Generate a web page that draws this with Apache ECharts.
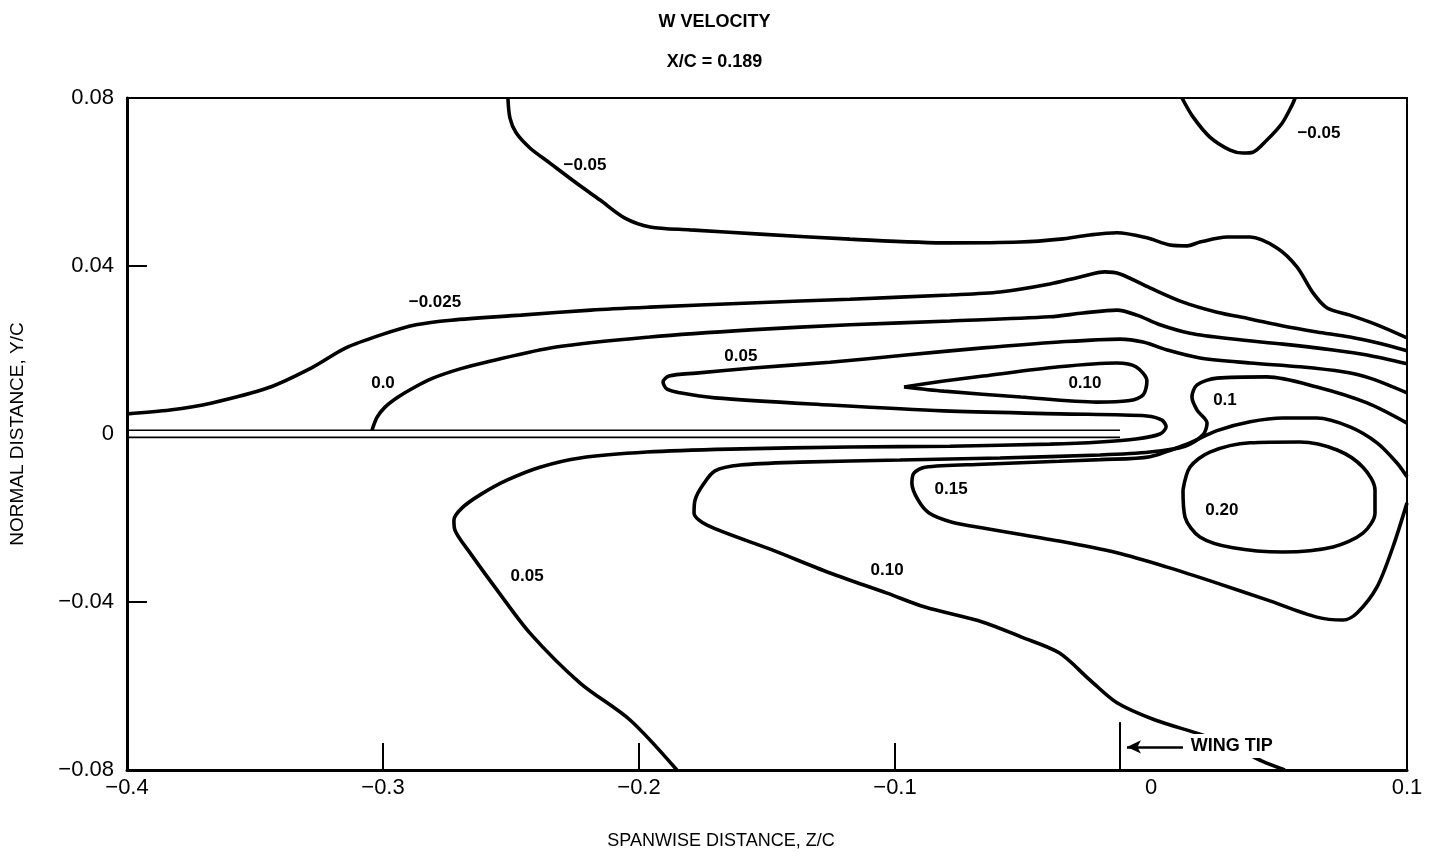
<!DOCTYPE html>
<html>
<head>
<meta charset="utf-8">
<script src="https://cdn.jsdelivr.net/npm/echarts@6/dist/echarts.min.js"></script>
<style>html,body{margin:0;padding:0;background:#fff}#c{width:1429px;height:858px}</style>
</head>
<body>
<div id="c"></div>
<script>
// ---- axis ticks ----
const zTickValues = [-0.3, -0.2, -0.1];
const yTickValues = [0.04, -0.04];

// ---- contours of W velocity, [z/c, y/c] ----
const contourM050Left = [[-0.2512,0.08],[-0.2504,0.0752],[-0.2480,0.0717],[-0.2426,0.0681],[-0.2348,0.0645],[-0.2250,0.0600],[-0.2152,0.0557],[-0.2055,0.0514],[-0.1957,0.0493],[-0.1801,0.0486],[-0.1527,0.0476],[-0.1176,0.0464],[-0.0785,0.0455],[-0.0512,0.0457],[-0.0355,0.0464],[-0.0238,0.0474],[-0.0133,0.0479],[-0.0016,0.0467],[0.0074,0.0450],[0.0141,0.0448],[0.0191,0.0457],[0.0297,0.0469],[0.0387,0.0469],[0.0492,0.0443],[0.0570,0.0398],[0.0633,0.0336],[0.0688,0.0300],[0.0777,0.0283],[0.0883,0.0260],[0.1,0.0229]];
const contourM050Right = [[0.0121,0.08],[0.0164,0.0755],[0.0230,0.0707],[0.0309,0.0676],[0.0359,0.0669],[0.0398,0.0671],[0.0453,0.0700],[0.0512,0.0740],[0.0551,0.0783],[0.0563,0.08]];
const contourM025 = [[-0.4,0.0048],[-0.3832,0.0057],[-0.3668,0.0074],[-0.3449,0.0110],[-0.3281,0.0157],[-0.3145,0.0205],[-0.3008,0.0236],[-0.2871,0.0260],[-0.2734,0.0271],[-0.2461,0.0283],[-0.2188,0.0295],[-0.1957,0.0302],[-0.1566,0.0312],[-0.1176,0.0321],[-0.0785,0.0331],[-0.0590,0.0338],[-0.0395,0.0357],[-0.0277,0.0374],[-0.0180,0.0386],[-0.0121,0.0381],[-0.0004,0.0348],[0.0125,0.0314],[0.0258,0.0290],[0.0387,0.0274],[0.0516,0.0257],[0.0648,0.0243],[0.0777,0.0231],[0.0883,0.0217],[0.1,0.0198]];
const contourZero = [[-0.3043,0.0009],[-0.3023,0.0040],[-0.2992,0.0064],[-0.2941,0.0088],[-0.2875,0.0112],[-0.2805,0.0133],[-0.2699,0.0155],[-0.2598,0.0171],[-0.2324,0.0207],[-0.1957,0.0231],[-0.1566,0.0248],[-0.1176,0.0260],[-0.0785,0.0269],[-0.0395,0.0279],[-0.0266,0.0288],[-0.0133,0.0295],[-0.0055,0.0283],[0.0035,0.0260],[0.0152,0.0240],[0.0320,0.0226],[0.0516,0.0214],[0.0711,0.0200],[0.0844,0.0188],[0.1,0.0167]];
const contour050 = [[0.1,0.0098],[0.0855,0.0133],[0.0750,0.0148],[0.0582,0.0160],[0.0387,0.0169],[0.0191,0.0181],[0.0063,0.0200],[-0.0031,0.0219],[-0.0121,0.0226],[-0.0359,0.0219],[-0.0656,0.0205],[-0.0957,0.0188],[-0.1254,0.0171],[-0.1555,0.0157],[-0.1777,0.0145],[-0.1883,0.0138],[-0.1906,0.0124],[-0.1891,0.0107],[-0.1840,0.0098],[-0.1703,0.0086],[-0.1254,0.0069],[-0.0809,0.0055],[-0.0359,0.0048],[-0.0016,0.0043],[0.0043,0.0033],[0.0059,0.0017],[0.0035,0.0000],[-0.0059,-0.0012],[-0.0199,-0.0019],[-0.0395,-0.0024],[-0.0785,-0.0029],[-0.1176,-0.0031],[-0.1645,-0.0036],[-0.1969,-0.0043],[-0.2230,-0.0057],[-0.2387,-0.0079],[-0.2516,-0.0110],[-0.2621,-0.0145],[-0.2691,-0.0176],[-0.2723,-0.0205],[-0.2719,-0.0229],[-0.2660,-0.0283],[-0.2555,-0.0371],[-0.2426,-0.0474],[-0.2230,-0.0593],[-0.2035,-0.0681],[-0.1852,-0.08]];
const contour100Upper = [[-0.0965,0.0112],[-0.0809,0.0126],[-0.0656,0.0138],[-0.0359,0.0160],[-0.0133,0.0169],[-0.0059,0.0160],[-0.0016,0.0126],[-0.0031,0.0093],[-0.0090,0.0079],[-0.0211,0.0076],[-0.0508,0.0088],[-0.0809,0.0102],[-0.0965,0.0112]];
const contour100 = [[0.1,0.0026],[0.0844,0.0074],[0.0648,0.0112],[0.0453,0.0136],[0.0258,0.0133],[0.0180,0.0117],[0.0160,0.0088],[0.0180,0.0057],[0.0219,0.0026],[0.0203,-0.0002],[0.0133,-0.0029],[-0.0004,-0.0043],[-0.0199,-0.0050],[-0.0590,-0.0057],[-0.0980,-0.0062],[-0.1371,-0.0067],[-0.1605,-0.0074],[-0.1703,-0.0088],[-0.1750,-0.0121],[-0.1781,-0.0157],[-0.1785,-0.0188],[-0.1734,-0.0217],[-0.1480,-0.0276],[-0.1254,-0.0331],[-0.1031,-0.0379],[-0.0883,-0.0412],[-0.0656,-0.0448],[-0.0508,-0.0483],[-0.0359,-0.0521],[-0.0238,-0.0586],[-0.0133,-0.0640],[0.0016,-0.0681],[0.0203,-0.0717],[0.0348,-0.0752],[0.0434,-0.0779],[0.0523,-0.08]];
const contour150 = [[0.1,-0.0102],[0.0961,-0.0069],[0.0883,-0.0021],[0.0777,0.0017],[0.0648,0.0038],[0.0516,0.0038],[0.0387,0.0029],[0.0258,0.0008],[0.0152,-0.0021],[-0.0004,-0.0054],[-0.0199,-0.0061],[-0.0359,-0.0065],[-0.0656,-0.0072],[-0.0883,-0.0079],[-0.0926,-0.0093],[-0.0934,-0.0117],[-0.0910,-0.0157],[-0.0867,-0.0188],[-0.0777,-0.0210],[-0.0656,-0.0224],[-0.0359,-0.0255],[-0.0133,-0.0283],[0.0063,-0.0317],[0.0258,-0.0355],[0.0453,-0.0395],[0.0648,-0.0436],[0.0750,-0.0443],[0.0805,-0.0426],[0.0883,-0.0364],[0.0945,-0.0269],[0.1,-0.0164]];
const contour200 = [[0.0125,-0.0133],[0.0152,-0.0079],[0.0230,-0.0043],[0.0387,-0.0021],[0.0582,-0.0019],[0.0727,-0.0038],[0.0828,-0.0079],[0.0875,-0.0133],[0.0875,-0.0188],[0.0828,-0.0236],[0.0711,-0.0269],[0.0516,-0.0281],[0.0320,-0.0271],[0.0191,-0.0245],[0.0133,-0.0198],[0.0125,-0.0133]];

// ---- contour level labels [z/c, y/c, text] ----
const levelLabels = [[-0.2211,0.0640,'\u22120.05'],[0.0656,0.0717,'\u22120.05'],[-0.2797,0.0314,'\u22120.025'],[-0.3000,0.0121,'0.0'],[-0.1602,0.0186,'0.05'],[-0.0258,0.0121,'0.10'],[0.0289,0.0081,'0.1'],[-0.0781,-0.0131,'0.15'],[0.0277,-0.0181,'0.20'],[-0.2437,-0.0340,'0.05'],[-0.1031,-0.0324,'0.10']];

// ---- wing and wing-tip marker ----
const wingTipZ = -0.0121;
const wingUpperY = 0.0009;
const wingLowerY = -0.0008;
const wingTipMarkTopY = -0.0686;
const wingTipArrow = {fromZ: 0.0125, toZ: -0.0094, y: -0.0745};
const wingTipText = {z: 0.0140, y: -0.0743, text: 'WING TIP'};

const fmt = (v, d) => (Math.abs(v) < 1e-9 ? '0' : (v < 0 ? '\u2212' : '') + Math.abs(v).toFixed(d));
const FONT = 'Liberation Sans';

const contours = [contourM050Left, contourM050Right, contourM025, contourZero, contour050, contour100Upper, contour100, contour150, contour200];
const series = contours.map(d => ({
  type: 'line', data: d, smooth: 0.3, symbol: 'none', silent: true,
  lineStyle: {color: '#000', width: 3.6}, z: 3
}));
series.push({type: 'line', data: [[-0.4, wingUpperY], [wingTipZ, wingUpperY]], symbol: 'none', lineStyle: {color: '#000', width: 1.6}, z: 2});
series.push({type: 'line', data: [[-0.4, wingLowerY], [wingTipZ, wingLowerY]], symbol: 'none', lineStyle: {color: '#000', width: 1.6}, z: 2});
series.push({
  type: 'line', data: [[wingTipZ, -0.08], [wingTipZ, wingTipMarkTopY]], symbol: 'none',
  lineStyle: {color: '#000', width: 2}, z: 4,
  markLine: {
    silent: true, symbol: ['none', 'arrow'], symbolSize: [10, 14],
    label: {show: false},
    lineStyle: {color: '#000', width: 2.5, type: 'solid'},
    data: [[{coord: [wingTipArrow.fromZ, wingTipArrow.y]}, {coord: [wingTipArrow.toZ, wingTipArrow.y]}]]
  }
});
series.push({
  type: 'scatter', symbolSize: 0, z: 10, itemStyle: {opacity: 1},
  data: levelLabels,
  label: {show: true, position: 'inside', formatter: p => p.data[2], color: '#000', opacity: 1, fontFamily: FONT, fontSize: 17, fontWeight: 'bold'}
});
series.push({
  type: 'scatter', symbolSize: 0, z: 10, itemStyle: {opacity: 1},
  data: [[wingTipText.z, wingTipText.y, wingTipText.text]],
  label: {show: true, position: 'right', distance: 0, formatter: p => p.data[2], color: '#000', opacity: 1, fontFamily: FONT, fontSize: 18, fontWeight: 'bold', backgroundColor: '#fff', padding: [3, 4]}
});

const chart = echarts.init(document.getElementById('c'));
chart.setOption({
  animation: false,
  backgroundColor: '#fff',
  title: [
    {text: 'W VELOCITY', left: 'center', top: 8, textStyle: {fontFamily: FONT, fontSize: 18, fontWeight: 'bold', color: '#000'}},
    {text: 'X/C = 0.189', left: 'center', top: 48, textStyle: {fontFamily: FONT, fontSize: 18, fontWeight: 'bold', color: '#000'}}
  ],
  grid: {left: 127, right: 22, top: 98, bottom: 88, show: true, borderColor: '#000', borderWidth: 2, backgroundColor: 'transparent'},
  xAxis: {
    type: 'value', min: -0.4, max: 0.1, interval: 0.1,
    name: 'SPANWISE DISTANCE, Z/C', nameLocation: 'middle', nameGap: 62,
    nameTextStyle: {fontFamily: FONT, fontSize: 18, color: '#000', padding: [0, 92, 0, 0]},
    axisLine: {show: true, onZero: false, lineStyle: {color: '#000', width: 3}},
    axisTick: {show: true, inside: true, length: 27, customValues: zTickValues, lineStyle: {color: '#000', width: 2}},
    axisLabel: {fontFamily: FONT, fontSize: 22, color: '#000', margin: 7, formatter: v => fmt(v, 1)},
    splitLine: {show: false}
  },
  yAxis: {
    type: 'value', min: -0.08, max: 0.08, interval: 0.04,
    name: 'NORMAL DISTANCE, Y/C', nameLocation: 'middle', nameGap: 100,
    nameTextStyle: {fontFamily: FONT, fontSize: 19, color: '#000'},
    axisLine: {show: true, onZero: false, lineStyle: {color: '#000', width: 3}},
    axisTick: {show: true, inside: true, length: 20, customValues: yTickValues, lineStyle: {color: '#000', width: 2}},
    axisLabel: {fontFamily: FONT, fontSize: 22, color: '#000', margin: 13, formatter: v => fmt(v, 2)},
    splitLine: {show: false}
  },
  series: series
});
</script>
</body>
</html>
